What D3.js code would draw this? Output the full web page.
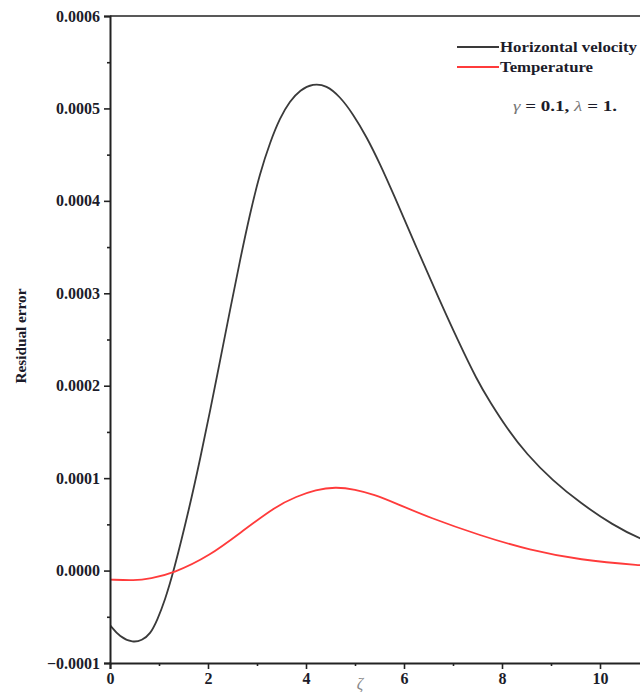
<!DOCTYPE html>
<html>
<head>
<meta charset="utf-8">
<script src="https://cdn.jsdelivr.net/npm/d3@7"></script>
<style>
  body { margin: 0; background: #fff; }
  svg { display: block; }
  text { font-family: "Liberation Serif", "DejaVu Serif", serif; }
</style>
</head>
<body>
<div id="chart"></div>
<script>
// horizontal velocity residual (black)
const velX = [0, 0.2, 0.47, 0.65, 0.82, 0.97, 1.12, 1.29, 1.63, 1.84, 2.04, 2.25, 2.45, 2.65, 2.86, 3.06, 3.27, 3.47, 3.67, 3.88, 4.14, 4.42, 4.69, 4.96, 5.24, 5.51, 5.78, 6.25, 6.73, 7.1, 7.49, 7.76, 8.1, 8.5, 9.04, 9.6, 10.27, 10.82, 11.5];
const velY = [-5.9e-5, -7.2e-5, -7.8e-5, -7.55e-5, -6.9e-5, -5.3e-5, -3.2e-5, -3e-6, 7.0e-5, 1.21e-4, 1.72e-4, 2.28e-4, 2.82e-4, 3.35e-4, 3.87e-4, 4.30e-4, 4.64e-4, 4.90e-4, 5.08e-4, 5.20e-4, 5.27e-4, 5.25e-4, 5.13e-4, 4.94e-4, 4.69e-4, 4.40e-4, 4.08e-4, 3.50e-4, 2.92e-4, 2.49e-4, 2.06e-4, 1.82e-4, 1.54e-4, 1.26e-4, 9.7e-5, 7.3e-5, 4.9e-5, 3.4e-5, 2.2e-5];

// temperature residual (red)
const tempX = [0, 0.5, 0.82, 1.29, 2.04, 2.71, 3.4, 3.8, 4.2, 4.6, 5.0, 5.4, 5.8, 6.53, 7.55, 8.57, 9.59, 10.82, 11.5];
const tempY = [-9.7e-6, -1.1e-5, -8.7e-6, -3e-6, 1.6e-5, 4.3e-5, 7.0e-5, 8.0e-5, 8.75e-5, 9.05e-5, 8.8e-5, 8.2e-5, 7.35e-5, 5.7e-5, 3.8e-5, 2.2e-5, 1.15e-5, 5.5e-6, 3.5e-6];

const xTicks = [0, 2, 4, 6, 8, 10];
const xMinor = [1, 3, 5, 7, 9, 11];
const yTicks = [-0.0001, 0, 0.0001, 0.0002, 0.0003, 0.0004, 0.0005, 0.0006];
const yMinor = [-0.00005, 0.00005, 0.00015, 0.00025, 0.00035, 0.00045, 0.00055];

const seriesNames = ["Horizontal velocity", "Temperature"];
const seriesColors = ["#3a3a3a", "#ff3b3b"];

const width = 640, height = 692;
const margin = { top: 16, left: 110 };
const plotBottom = 663;

const svg = d3.select("#chart").append("svg")
    .attr("width", width)
    .attr("height", height);

const x = d3.scaleLinear().domain([0, 12]).range([margin.left, margin.left + 49 * 12]);
const y = d3.scaleLinear().domain([-0.0001, 0.0006]).range([plotBottom, margin.top]);

svg.append("clipPath").attr("id", "clip")
  .append("rect")
    .attr("x", margin.left).attr("y", margin.top)
    .attr("width", width - margin.left).attr("height", plotBottom - margin.top);

// curves (B-spline to smooth the read-off points)
const line = d3.line()
    .x(d => x(d[0]))
    .y(d => y(d[1]))
    .curve(d3.curveBasis);

const series = [
    d3.zip(velX, velY),
    d3.zip(tempX, tempY)
];

svg.append("g").attr("clip-path", "url(#clip)")
  .selectAll("path")
  .data(series)
  .join("path")
    .attr("fill", "none")
    .attr("stroke", (d, i) => seriesColors[i])
    .attr("stroke-width", 1.8)
    .attr("d", line);

// top frame
svg.append("line")
    .attr("x1", margin.left).attr("x2", width)
    .attr("y1", margin.top).attr("y2", margin.top)
    .attr("stroke", "#222").attr("stroke-width", 1.6);

// axes
svg.append("g")
    .attr("transform", `translate(0,${plotBottom})`)
    .call(d3.axisBottom(x).tickValues(xTicks).tickSize(6).tickPadding(4).tickFormat(d3.format("d")));
svg.append("g")
    .attr("transform", `translate(0,${plotBottom})`)
    .call(d3.axisBottom(x).tickValues(xMinor).tickSize(3).tickFormat(""))
    .call(g => g.select(".domain").remove());

svg.append("g")
    .attr("transform", `translate(${margin.left},0)`)
    .call(d3.axisLeft(y).tickValues(yTicks).tickSize(6).tickPadding(4).tickFormat(d3.format(".4f")));
svg.append("g")
    .attr("transform", `translate(${margin.left},0)`)
    .call(d3.axisLeft(y).tickValues(yMinor).tickSize(3).tickFormat(""))
    .call(g => g.select(".domain").remove());

svg.selectAll(".domain").attr("stroke", "#222").attr("stroke-width", 2);
svg.selectAll(".tick line").attr("stroke", "#222").attr("stroke-width", 1.6);
svg.selectAll(".tick text")
    .attr("fill", "#1c1c2a")
    .style("font-family", "'Liberation Serif', serif")
    .style("font-weight", "bold")
    .style("font-size", "16px");

// axis titles
svg.append("text")
    .attr("x", x(5.1)).attr("y", 689)
    .attr("text-anchor", "middle")
    .attr("fill", "#888")
    .style("font-style", "italic")
    .style("font-size", "16px")
    .text("ζ");

svg.append("text")
    .attr("transform", "translate(26,336) rotate(-90)")
    .attr("text-anchor", "middle")
    .attr("fill", "#1c1c2a")
    .attr("textLength", 95)
    .attr("lengthAdjust", "spacingAndGlyphs")
    .style("font-weight", "bold")
    .style("font-size", "14px")
    .text("Residual error");

// legend
const legend = svg.append("g");
const legendWidths = [137, 93];
seriesNames.forEach((name, i) => {
    const ly = 47 + i * 20;
    legend.append("line")
        .attr("x1", 457).attr("x2", 499)
        .attr("y1", ly).attr("y2", ly)
        .attr("stroke", seriesColors[i]).attr("stroke-width", 2);
    legend.append("text")
        .attr("x", 500).attr("y", ly + 4.5)
        .attr("fill", "#1c1c2a")
        .attr("textLength", legendWidths[i])
        .attr("lengthAdjust", "spacingAndGlyphs")
        .style("font-weight", "bold")
        .style("font-size", "14px")
        .text(name);
});

const note = svg.append("text")
    .attr("x", 513).attr("y", 111)
    .attr("fill", "#1c1c2a")
    .attr("textLength", 104)
    .attr("lengthAdjust", "spacingAndGlyphs")
    .style("font-size", "14px");
note.append("tspan").style("font-style", "italic").attr("fill", "#777").text("γ ");
note.append("tspan").style("font-weight", "bold").text("= 0.1, ");
note.append("tspan").style("font-style", "italic").attr("fill", "#777").text("λ ");
note.append("tspan").style("font-weight", "bold").text(" = 1.");
</script>
</body>
</html>
